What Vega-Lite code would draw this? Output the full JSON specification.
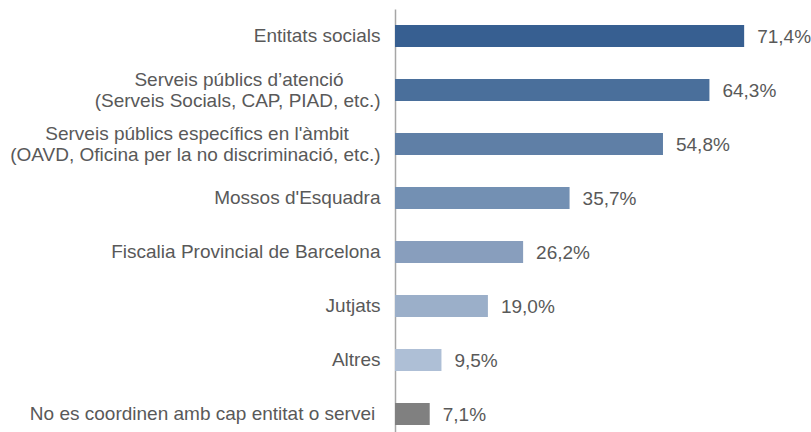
{
  "$schema": "https://vega.github.io/schema/vega-lite/v6.json",
  "autosize": {"type": "none"},
  "padding": {"left": 395, "top": 9, "right": 0, "bottom": 0},
  "width": 416,
  "height": 432,
  "background": "white",
  "config": {
    "view": {"stroke": null},
    "locale": {"number": {"decimal": ",", "thousands": ".", "grouping": [3], "currency": ["", " €"]}}
  },
  "data": {
    "values": [
      {"entitat": "Entitats socials", "pct": 0.714},
      {"entitat": "Serveis públics d’atenció\u00a0\u00a0\u00a0\u00a0\u00a0\u00a0\u00a0\u2060|(Serveis Socials, CAP, PIAD, etc.)", "pct": 0.643},
      {"entitat": "Serveis públics específics en l'àmbit\u00a0\u00a0\u00a0\u00a0\u00a0\u00a0\u2060|(OAVD, Oficina per la no discriminació, etc.)", "pct": 0.548},
      {"entitat": "Mossos d'Esquadra", "pct": 0.357},
      {"entitat": "Fiscalia Provincial de Barcelona", "pct": 0.262},
      {"entitat": "Jutjats", "pct": 0.19},
      {"entitat": "Altres", "pct": 0.095},
      {"entitat": "No es coordinen amb cap entitat o servei\u00a0\u2060", "pct": 0.071}
    ]
  },
  "encoding": {
    "y": {
      "field": "entitat",
      "type": "nominal",
      "sort": null,
      "scale": {"paddingInner": 0, "paddingOuter": 0},
      "axis": {
        "title": null,
        "ticks": false,
        "tickSize": 0,
        "labelPadding": 15,
        "labelFont": "Liberation Sans",
        "labelFontSize": 19,
        "labelColor": "#595959",
        "labelLineHeight": 21,
        "labelLimit": 0,
        "labelOffset": {"condition": {"test": "indexof(datum.value, '|') >= 0", "value": -10}, "value": 0},
        "labelExpr": "split(datum.value, '|')",
        "domainColor": "#a6a6a6",
        "domainWidth": 1.5,
        "grid": false
      }
    },
    "x": {
      "field": "pct",
      "type": "quantitative",
      "scale": {"domain": [0, 0.8507], "nice": false, "zero": true},
      "axis": null
    }
  },
  "layer": [
    {
      "mark": {"type": "bar", "size": 22},
      "encoding": {
        "color": {
          "field": "entitat",
          "type": "nominal",
          "sort": null,
          "legend": null,
          "scale": {
            "range": ["#375f91", "#4a6f9b", "#5f7fa6", "#7390b3", "#889ebd", "#9bafc9", "#aebfd6", "#808080"]
          }
        }
      }
    },
    {
      "mark": {
        "type": "text",
        "align": "left",
        "baseline": "middle",
        "dx": 13,
        "dy": 1,
        "font": "Liberation Sans",
        "fontSize": 19,
        "color": "#595959"
      },
      "encoding": {
        "text": {"field": "pct", "type": "quantitative", "format": ".1%"}
      }
    }
  ]
}
